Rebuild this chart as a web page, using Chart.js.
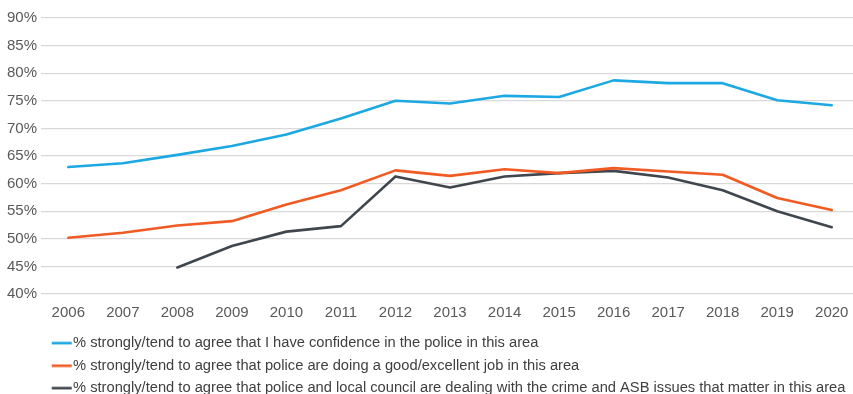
<!DOCTYPE html>
<html>
<head>
<meta charset="utf-8">
<script src="https://cdn.jsdelivr.net/npm/chart.js@4"></script>
<style>
  html, body { margin: 0; padding: 0; background: #ffffff; overflow: hidden; }
  #wrap { width: 859px; height: 394px; position: relative; }
</style>
</head>
<body>
<div id="wrap"><canvas id="c"></canvas></div>
<script>
const years = ['2006','2007','2008','2009','2010','2011','2012','2013','2014','2015','2016','2017','2018','2019','2020'];
const confidence = [63.0, 63.7, 65.2, 66.8, 68.9, 71.8, 75.0, 74.5, 75.9, 75.7, 78.7, 78.2, 78.2, 75.1, 74.2];
const goodJob = [50.2, 51.1, 52.4, 53.2, 56.2, 58.8, 62.4, 61.4, 62.6, 61.9, 62.8, 62.2, 61.6, 57.4, 55.2];
const dealing = [null, null, 44.8, 48.7, 51.3, 52.3, 61.3, 59.3, 61.3, 61.9, 62.3, 61.1, 58.8, 55.0, 52.1];
const seriesLabels = [
  '% strongly/tend to agree that I have confidence in the police in this area',
  '% strongly/tend to agree that police are doing a good/excellent job in this area',
  '% strongly/tend to agree that police and local council are dealing with the crime and ASB issues that matter in this area'
];
const seriesColors = ['#1ca8e2', '#f15a22', '#3f464d'];
const yTicks = [40, 45, 50, 55, 60, 65, 70, 75, 80, 85, 90];

const FONT = '"Liberation Sans", Arial, sans-serif';

function legendLine(color) {
  const c = document.createElement('canvas');
  c.width = 40; c.height = 4;
  const g = c.getContext('2d');
  g.fillStyle = color;
  g.fillRect(16, 0.7, 20, 2.6);
  return c;
}

const legendShift = {
  id: 'legendShift',
  afterLayout(chart) {
    if (chart.legend) {
      chart.legend.left += 34.9;
      chart.legend.top -= 4;
    }
  }
};

new Chart(document.getElementById('c'), {
  type: 'line',
  data: {
    labels: years,
    datasets: [
      { label: seriesLabels[0], data: confidence, borderColor: seriesColors[0], backgroundColor: seriesColors[0], borderWidth: 2.6, pointStyle: legendLine(seriesColors[0]) },
      { label: seriesLabels[1], data: goodJob, borderColor: seriesColors[1], backgroundColor: seriesColors[1], borderWidth: 2.6, pointStyle: legendLine(seriesColors[1]) },
      { label: seriesLabels[2], data: dealing, borderColor: seriesColors[2], backgroundColor: seriesColors[2], borderWidth: 2.6, pointStyle: legendLine(seriesColors[2]) }
    ]
  },
  options: {
    responsive: true,
    maintainAspectRatio: false,
    animation: false,
    elements: {
      line: { tension: 0, borderCapStyle: 'round', borderJoinStyle: 'round' },
      point: { radius: 0, hoverRadius: 0 }
    },
    layout: { padding: { left: 3, right: 0, top: 18, bottom: 0 } },
    plugins: {
      tooltip: { enabled: false },
      legend: {
        position: 'bottom',
        align: 'start',
        maxHeight: 62,
        labels: {
          usePointStyle: true,
          pointStyleWidth: 20,
          padding: 7.8,
          color: '#404040',
          font: { family: FONT, size: 14.7 }
        }
      }
    },
    scales: {
      x: {
        offset: true,
        grid: { display: false, drawTicks: false },
        border: { display: false },
        ticks: { color: '#595959', font: { family: FONT, size: 15 }, padding: 10, maxRotation: 0, autoSkip: false }
      },
      y: {
        min: 40,
        max: 90,
        afterBuildTicks(axis) { axis.ticks = yTicks.map(v => ({ value: v })); },
        grid: { color: '#d9d9d9', lineWidth: 1.2, drawTicks: false },
        border: { display: false },
        ticks: { color: '#595959', font: { family: FONT, size: 15 }, padding: 4, callback: v => v + '%' }
      }
    }
  },
  plugins: [legendShift]
});
</script>
</body>
</html>
